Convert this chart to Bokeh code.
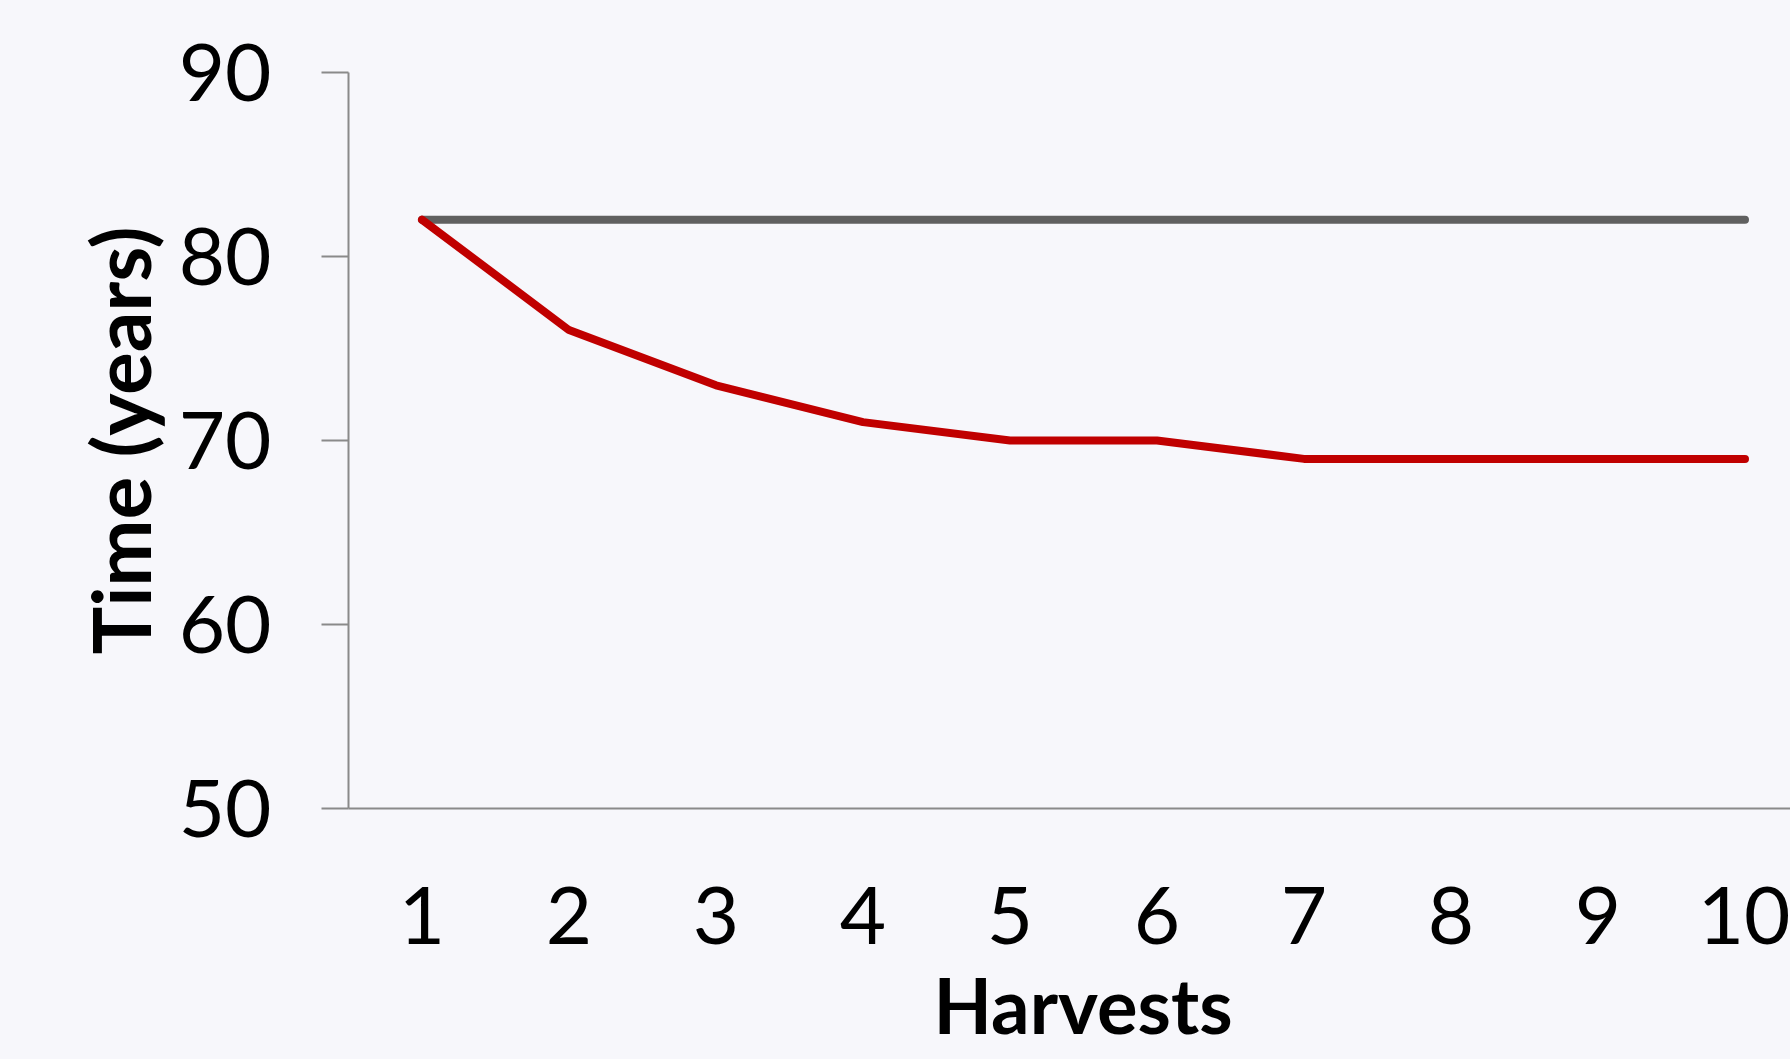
from bokeh.plotting import figure
from bokeh.models import Range1d, FixedTicker, Title, GlobalInlineStyleSheet
from bokeh.embed import file_html
from bokeh.resources import INLINE

# ---- data ----
harvests = [1, 2, 3, 4, 5, 6, 7, 8, 9, 10]
baseline_years = [82, 82, 82, 82, 82, 82, 82, 82, 82, 82]
rotation_years = [82, 76, 73, 71, 70, 70, 69, 69, 69, 69]
y_ticks = [50, 60, 70, 80, 90]
x_label = "Harvests"
y_label = "Time (years)"

BG = "#f7f7fb"
AXIS = "#8a8a8a"
FONT = "Lato"

p = figure(width=1790, height=1059, output_backend="svg", toolbar_location=None,
           x_range=Range1d(0.5, 0.5 + 1442 / 147.0), y_range=Range1d(50, 90),
           min_border_left=348, min_border_right=0, min_border_top=72,
           min_border_bottom=251)
p.stylesheets = [GlobalInlineStyleSheet(css=f"html, body {{ background: {BG}; }}")]
p.background_fill_color = BG
p.border_fill_color = BG
p.outline_line_color = None
p.grid.visible = False

p.line(harvests, baseline_years, line_color="#606060", line_width=8, line_cap="round")
p.line(harvests, rotation_years, line_color="#c00000", line_width=8, line_cap="round",
       line_join="round")

# axes
for ax in (p.xaxis[0], p.yaxis[0]):
    ax.axis_line_color = AXIS
    ax.axis_line_width = 2
    ax.major_tick_line_color = AXIS
    ax.major_tick_line_width = 2
    ax.minor_tick_line_color = None
    ax.major_label_text_font = FONT
    ax.major_label_text_font_size = "80px"
    ax.major_label_text_color = "black"

p.xaxis.ticker = FixedTicker(ticks=harvests)
p.xaxis.major_tick_out = 0
p.xaxis.major_tick_in = 0
p.xaxis.major_label_standoff = 78

p.yaxis.ticker = FixedTicker(ticks=y_ticks)
p.yaxis.major_tick_out = 27
p.yaxis.major_tick_in = 0
p.yaxis.major_label_standoff = 50
p.yaxis.axis_label = y_label
p.yaxis.axis_label_text_font = FONT
p.yaxis.axis_label_text_font_style = "bold"
p.yaxis.axis_label_text_font_size = "80px"
p.yaxis.axis_label_text_color = "black"
p.yaxis.axis_label_standoff = 8

# x-axis title, centred on the (uncropped) plot area
p.add_layout(Title(text=x_label, align="left", offset=585, text_font=FONT,
                   text_font_style="bold", text_font_size="76px", text_color="black",
                   standoff=20), "below")

open("out.html", "w").write(file_html(p, INLINE))
